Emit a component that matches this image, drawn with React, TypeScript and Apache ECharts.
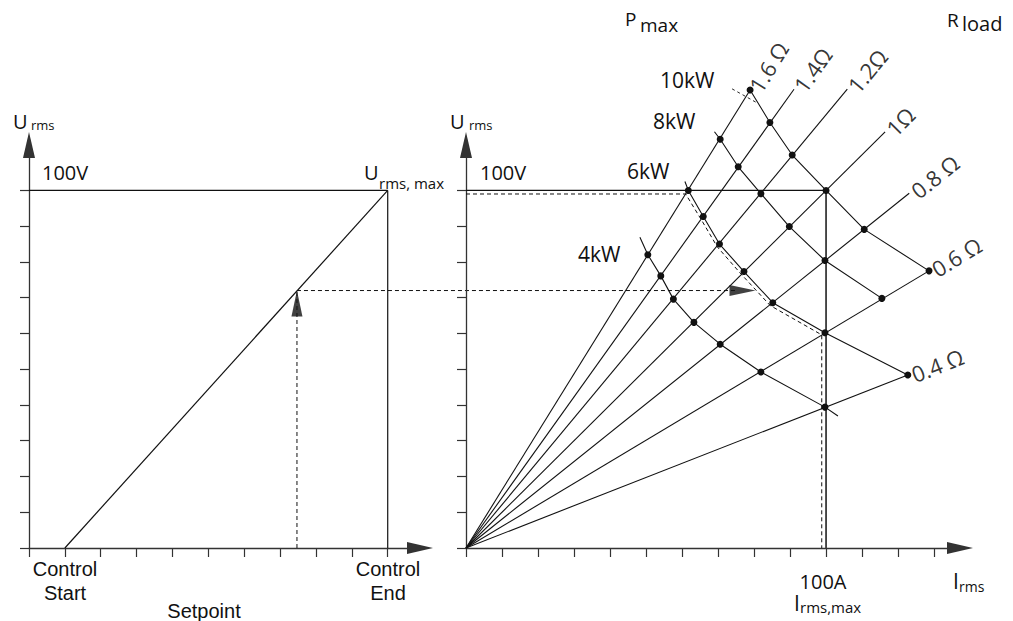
import React, { useEffect, useRef } from 'react';
import * as echarts from 'echarts';

// ---------- Left panel: setpoint -> output voltage ----------
const setpointTicks = [0, 1, 2, 3, 4, 5, 6, 7, 8, 9, 10];
const voltageTicks = [0, 10, 20, 30, 40, 50, 60, 70, 80, 90, 100];
const controlStart = 1;
const controlEnd = 10;
const uMax = 100; // V
const setpointValue = 7.47;
const setpointVoltage = 72; // V

// ---------- Right panel: U-I plane ----------
const currentTicks = [0, 10, 20, 30, 40, 50, 60, 70, 80, 90, 100, 110, 120, 130];
const iMax = 100; // A
const transferCurrent = 80.4; // where the dashed setpoint line meets the limit

const resistanceNames = ['0.4 Ω', '0.6 Ω', '0.8 Ω', '1Ω', '1.2Ω', '1.4Ω', '1.6 Ω'];
const resistanceEndI = [122.7, 128.6, 123.1, 116.4, 105.9, 91.1, 78.9];
const resistanceEndU = [48.4, 77.5, 99.2, 116.4, 128.3, 128.3, 128.1];

// power curves (I in A, U in V); dot = 1 marks an intersection point
const p4kW_I = [48.3, 50.5, 54.1, 57.6, 63.3, 70.6, 81.9, 99.7, 103.3];
const p4kW_U = [86.9, 82.0, 76.1, 69.6, 63.1, 57.0, 49.2, 39.4, 36.9];
const p4kW_dot = [0, 1, 1, 1, 1, 1, 1, 1, 0];
const p6kW_I = [60.8, 61.75, 65.9, 70.4, 77.2, 85.2, 99.7, 122.7];
const p6kW_U = [102.5, 100.0, 92.7, 85.0, 77.3, 68.6, 60.2, 48.4];
const p6kW_dot = [0, 1, 1, 1, 1, 1, 1, 1];
const p8kW_I = [69.0, 70.6, 75.6, 81.9, 89.8, 99.7, 115.5];
const p8kW_U = [116.4, 114.3, 106.6, 99.1, 89.9, 80.4, 69.8];
const p8kW_dot = [0, 1, 1, 1, 1, 1, 1];
const p10kW_I = [78.9, 84.4, 90.6, 100, 110.6, 128.6];
const p10kW_U = [128.1, 119.0, 109.9, 100, 89.1, 77.5];
const p10kW_dot = [1, 1, 1, 1, 1, 1];
const p10kWStub_I = [73.9, 80.8];
const p10kWStub_U = [128.4, 124.5];

// operating limit (dashed)
const limitI = [0, 61.0, 65.3, 69.8, 76.5, 84.5, 98.8, 98.8];
const limitU = [99.0, 99.0, 91.9, 84.2, 76.5, 67.8, 59.6, 0];

const INK = '#111';
const AXIS = '#333';
const FONT = '"Open Sans", "Noto Sans", sans-serif';
const ARIAL = '"Liberation Sans", Arial, sans-serif';

const zip = (a: number[], b: number[]) => a.map((v, i) => [v, b[i]]);

function lineSeries(grid: number, data: any[], style: any = {}) {
  return {
    type: 'line',
    xAxisIndex: grid,
    yAxisIndex: grid,
    data,
    symbol: 'none',
    clip: false,
    silent: true,
    lineStyle: { color: INK, width: 1.1, ...style },
  };
}

function powerSeries(I: number[], U: number[], dot: number[]) {
  return {
    type: 'line',
    xAxisIndex: 1,
    yAxisIndex: 1,
    clip: false,
    silent: true,
    showSymbol: true,
    showAllSymbol: true,
    symbolSize: 7,
    itemStyle: { color: INK },
    lineStyle: { color: INK, width: 1.1 },
    z: 5,
    data: I.map((v, i) => ({ value: [v, U[i]], symbol: dot[i] ? 'circle' : 'none' })),
  };
}

function makeAxis(grid: number, max: number, ticks: number[]) {
  return {
    type: 'value',
    gridIndex: grid,
    min: 0,
    max,
    axisLine: {
      show: true,
      onZero: false,
      symbol: ['none', 'triangle'],
      symbolSize: [12, 26],
      lineStyle: { color: AXIS, width: 1.3 },
    },
    axisTick: { show: true, length: 9, customValues: ticks, lineStyle: { color: AXIS, width: 1.2 } },
    axisLabel: { show: false },
    splitLine: { show: false },
  };
}

function txt(x: number, y: number, text: string, size: number, align = 'left', family = FONT) {
  return {
    type: 'text',
    x,
    y,
    silent: true,
    style: {
      text,
      fontSize: size,
      fontFamily: family,
      fill: INK,
      align,
      textAlign: align,
      verticalAlign: 'middle',
      textVerticalAlign: 'middle',
    },
  };
}

const texts = [
  // left panel
  txt(13, 121, 'U', 20),
  txt(31, 125, 'rms', 13),
  txt(42, 172, '100V', 20),
  txt(364, 172, 'U', 20),
  txt(379, 183, 'rms, max', 15),
  txt(65, 569, 'Control', 20, 'center', ARIAL),
  txt(65, 593, 'Start', 20, 'center', ARIAL),
  txt(388, 569, 'Control', 20, 'center', ARIAL),
  txt(388, 593, 'End', 20, 'center', ARIAL),
  txt(204, 611, 'Setpoint', 20, 'center', ARIAL),
  // right panel
  txt(450, 121, 'U', 20),
  txt(469, 125, 'rms', 13),
  txt(480, 172, '100V', 20),
  txt(625, 19, 'P', 19),
  txt(640, 25, 'max', 19),
  txt(947, 20, 'R', 19),
  txt(962, 23, 'load', 20),
  txt(660, 80, '10kW', 21),
  txt(653, 121, '8kW', 21),
  txt(627, 171, '6kW', 21),
  txt(578, 254, '4kW', 21),
  txt(823, 581, '100A', 20, 'center'),
  txt(794, 603, 'I', 21),
  txt(800, 607, 'rms,max', 15),
  txt(953, 581, 'I', 21),
  txt(959, 586, 'rms', 14),
];

const option: any = {
  animation: false,
  backgroundColor: '#fff',
  textStyle: { fontFamily: FONT },
  grid: [
    { left: 29, top: 145, width: 391, height: 403 },
    { left: 466, top: 145, width: 494, height: 403 },
  ],
  xAxis: [makeAxis(0, 10.9, setpointTicks), makeAxis(1, 137.2, currentTicks)],
  yAxis: [makeAxis(0, 112.7, voltageTicks), makeAxis(1, 112.7, voltageTicks)],
  series: [
    // left panel
    lineSeries(0, [[controlStart, 0], [controlEnd, uMax]], { width: 1.2 }),
    lineSeries(0, [[0, uMax], [controlEnd, uMax]], { width: 1.2 }),
    lineSeries(0, [[controlEnd, 0], [controlEnd, uMax]], { width: 1.2 }),
    lineSeries(0, [[setpointValue, 0], [setpointValue, setpointVoltage]], { width: 1, type: [4, 3] }),
    {
      type: 'scatter',
      xAxisIndex: 0,
      yAxisIndex: 0,
      silent: true,
      symbol: 'triangle',
      symbolSize: [11, 26],
      symbolOffset: [0, 13],
      itemStyle: { color: INK },
      data: [[setpointValue, setpointVoltage]],
      z: 6,
    },
    // right panel
    lineSeries(1, [[0, uMax], [iMax, uMax]], { width: 1.2 }),
    lineSeries(1, [[iMax, 0], [iMax, uMax]], { width: 1.8, color: '#3a3a3a' }),
    lineSeries(1, zip(limitI, limitU), { width: 1, type: [4, 3] }),
    ...resistanceEndI.map((I, i) => lineSeries(1, [[0, 0], [I, resistanceEndU[i]]])),
    powerSeries(p4kW_I, p4kW_U, p4kW_dot),
    powerSeries(p6kW_I, p6kW_U, p6kW_dot),
    powerSeries(p8kW_I, p8kW_U, p8kW_dot),
    powerSeries(p10kW_I, p10kW_U, p10kW_dot),
    lineSeries(1, zip(p10kWStub_I, p10kWStub_U), { width: 0.9, type: [3, 3] }),
    {
      type: 'scatter',
      xAxisIndex: 1,
      yAxisIndex: 1,
      silent: true,
      clip: false,
      symbol: 'circle',
      symbolSize: 1,
      itemStyle: { color: 'rgba(0,0,0,0)' },
      data: resistanceEndI.map((I, i) => ({
        name: resistanceNames[i],
        value: [I, resistanceEndU[i]],
        label: {
          show: true,
          formatter: resistanceNames[i],
          position: 'right',
          distance: 4,
          align: 'left',
          verticalAlign: 'middle',
          fontSize: 22,
          fontFamily: FONT,
          color: '#000',
          rotate: (Math.atan2(resistanceEndU[i], I) * 180) / Math.PI,
        },
      })),
      z: 7,
    },
    {
      type: 'scatter',
      xAxisIndex: 1,
      yAxisIndex: 1,
      silent: true,
      symbol: 'triangle',
      symbolSize: [11, 26],
      symbolRotate: -90,
      symbolOffset: [-13, 0],
      itemStyle: { color: INK },
      data: [[transferCurrent, setpointVoltage]],
      z: 6,
    },
  ],
  graphic: texts,
};

export default function App() {
  const ref = useRef<HTMLDivElement>(null);
  useEffect(() => {
    const chart = echarts.init(ref.current!, null, { renderer: 'svg' });
    chart.setOption(option);
    const a = chart.convertToPixel({ gridIndex: 0 }, [setpointValue, setpointVoltage]) as number[];
    const b = chart.convertToPixel({ gridIndex: 1 }, [transferCurrent, setpointVoltage]) as number[];
    chart.setOption({
      graphic: [
        ...texts,
        {
          type: 'line',
          silent: true,
          shape: { x1: a[0], y1: a[1], x2: b[0] - 20, y2: b[1] },
          style: { stroke: INK, lineWidth: 1, lineDash: [4, 3] },
        },
      ],
    });
    return () => chart.dispose();
  }, []);
  return (
    <div
      ref={ref}
      style={{ position: 'fixed', left: 0, top: 0, width: 1013, height: 621, background: '#fff' }}
    />
  );
}
